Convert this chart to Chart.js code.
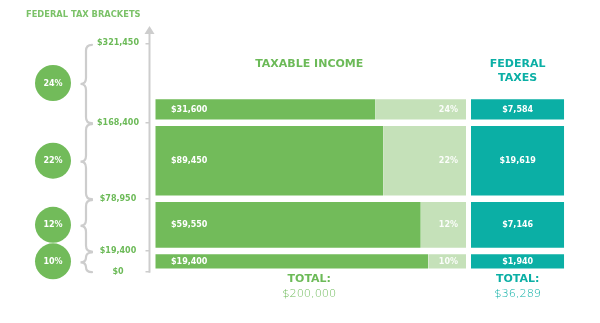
<!DOCTYPE html>
<html>
<head>
<meta charset="utf-8">
<script src="https://cdn.jsdelivr.net/npm/chart.js@4.4.1/dist/chart.umd.min.js"></script>
<style>
  html, body { margin: 0; padding: 0; background: #ffffff; }
  canvas { display: block; }
</style>
</head>
<body>
<canvas id="taxChart" width="600" height="323"></canvas>
<script>
// Federal brackets, lowest first
const rates = [10, 12, 22, 24];
const bracketFloors = [0, 19400, 78950, 168400];
const axisTicks = [0, 19400, 78950, 168400, 321450];
const incomeInBracket = [19400, 59550, 89450, 31600];
const taxInBracket = [1940, 7146, 19619, 7584];
const totalIncome = 200000;
const totalTax = 36289;

const GREEN = '#72bb5a';
const PALE = '#c5e1b9';
const TEAL = '#0bafa5';
const GREY = '#cdcdcd';
const LABEL_GREEN = '#6cba58';
const FONT = '"DejaVu Sans", sans-serif';

const money = v => '$' + Math.round(v).toLocaleString('en-US');

// Width of one income row, in rate points: the pale part of a row is its rate.
const ROW_SPAN = 84;

// Piecewise-linear dollar axis: each segment between stops gets its own share of the height.
const AXIS_STOPS = [0, 19400, 78950, 168400, 200000, 321450];
const AXIS_SHARES = [0, 0.0906, 0.3196, 0.6524, 0.769, 1];

class StepScale extends Chart.LinearScale {
  static id = 'steps';
  _toDecimal(value) {
    if (value <= AXIS_STOPS[0]) return AXIS_SHARES[0];
    for (let i = 1; i < AXIS_STOPS.length; i++) {
      if (value <= AXIS_STOPS[i]) {
        const t = (value - AXIS_STOPS[i - 1]) / (AXIS_STOPS[i] - AXIS_STOPS[i - 1]);
        return AXIS_SHARES[i - 1] + t * (AXIS_SHARES[i] - AXIS_SHARES[i - 1]);
      }
    }
    return AXIS_SHARES[AXIS_SHARES.length - 1];
  }
  getPixelForValue(value) {
    return value === null ? NaN : this.getPixelForDecimal(this._toDecimal(value));
  }
  getValueForPixel(pixel) {
    const d = this.getDecimalForPixel(pixel);
    for (let i = 1; i < AXIS_SHARES.length; i++) {
      if (d <= AXIS_SHARES[i]) {
        const t = (d - AXIS_SHARES[i - 1]) / (AXIS_SHARES[i] - AXIS_SHARES[i - 1]);
        return AXIS_STOPS[i - 1] + t * (AXIS_STOPS[i] - AXIS_STOPS[i - 1]);
      }
    }
    return AXIS_STOPS[AXIS_STOPS.length - 1];
  }
}

// Horizontal bars whose thickness spans a dollar range (lo..hi) on the vertical axis.
class BandController extends Chart.BarController {
  static id = 'band';
  static overrides = {};
  _calculateBarIndexPixels(index) {
    const iScale = this._cachedMeta.iScale;
    const row = this.getDataset().data[index];
    const a = iScale.getPixelForValue(row.lo);
    const b = iScale.getPixelForValue(row.hi);
    const base = Math.min(a, b);
    const head = Math.max(a, b);
    return { base, head, center: (a + b) / 2, size: head - base };
  }
}

Chart.register(StepScale, BandController);

const rowLo = bracketFloors;
const rowHi = bracketFloors.map((f, i) => f + incomeInBracket[i]);
const rowMid = rowLo.map((lo, i) => (lo + rowHi[i]) / 2);

const keptData = rates.map((r, i) => ({ x: [0, ROW_SPAN - r], y: rowMid[i], lo: rowLo[i], hi: rowHi[i] }));
const rateData = rates.map((r, i) => ({ x: [ROW_SPAN - r, ROW_SPAN], y: rowMid[i], lo: rowLo[i], hi: rowHi[i] }));
const taxData = taxInBracket.map((t, i) => ({ x: [0, 1], y: rowMid[i], lo: rowLo[i], hi: rowHi[i] }));

const GUTTER = { top: 3.2, bottom: 3.2 };

const annotate = {
  id: 'annotate',
  afterDraw(chart) {
    const ctx = chart.ctx;
    const ys = chart.scales.y;
    const xs = chart.scales.x;
    const x2s = chart.scales.x2;
    ctx.save();

    // vertical dollar axis with arrow head
    const ax = ys.right;
    ctx.strokeStyle = GREY;
    ctx.fillStyle = GREY;
    ctx.lineWidth = 2;
    ctx.beginPath();
    ctx.moveTo(ax, 32);
    ctx.lineTo(ax, ys.bottom + 1);
    ctx.stroke();
    ctx.beginPath();
    ctx.moveTo(ax, 26);
    ctx.lineTo(ax - 5, 34);
    ctx.lineTo(ax + 5, 34);
    ctx.closePath();
    ctx.fill();

    // braces and rate badges for each bracket
    for (let i = 0; i < rates.length; i++) {
      const yb = ys.getPixelForValue(axisTicks[i]);
      const yt = ys.getPixelForValue(axisTicks[i + 1]);
      const top = yt + 1.5;
      const bot = yb + 0.5;
      const mid = (top + bot) / 2;
      const spine = 86, tip = 80.5, end = 92;
      const r = Math.min(6, (bot - top) / 4);
      ctx.strokeStyle = GREY;
      ctx.lineWidth = 2.2;
      ctx.lineCap = 'round';
      ctx.beginPath();
      ctx.moveTo(end, top);
      ctx.quadraticCurveTo(spine, top, spine, top + r);
      ctx.lineTo(spine, mid - r);
      ctx.quadraticCurveTo(spine, mid, tip, mid);
      ctx.quadraticCurveTo(spine, mid, spine, mid + r);
      ctx.lineTo(spine, bot - r);
      ctx.quadraticCurveTo(spine, bot, end, bot);
      ctx.stroke();

      const cy = (yb + yt) / 2;
      ctx.fillStyle = GREEN;
      ctx.beginPath();
      ctx.arc(53, cy, 18, 0, Math.PI * 2);
      ctx.fill();
      ctx.fillStyle = '#ffffff';
      ctx.font = 'bold 8px ' + FONT;
      ctx.textAlign = 'center';
      ctx.textBaseline = 'middle';
      ctx.fillText(rates[i] + '%', 53, cy + 0.5);
    }

    // labels inside the bars
    const kept = chart.getDatasetMeta(0).data;
    const pale = chart.getDatasetMeta(1).data;
    const tax = chart.getDatasetMeta(2).data;
    ctx.font = 'bold 8px ' + FONT;
    ctx.textBaseline = 'middle';
    for (let i = 0; i < rates.length; i++) {
      const k = kept[i], p = pale[i], t = tax[i];
      ctx.fillStyle = '#ffffff';
      ctx.textAlign = 'left';
      ctx.fillText(money(incomeInBracket[i]), k.base + 21.5, k.y + 0.5);
      ctx.fillStyle = 'rgba(255,255,255,0.92)';
      ctx.textAlign = 'right';
      ctx.fillText(rates[i] + '%', p.x - 8, p.y + 0.5);
      ctx.fillStyle = '#ffffff';
      ctx.textAlign = 'center';
      ctx.fillText(money(taxInBracket[i]), (t.base + 5 + t.x) / 2, t.y + 0.5);
    }

    // headings and totals
    const incomeCenter = (xs.left + xs.right) / 2 + 1.5;
    const taxCenter = (x2s.left + 5 + x2s.right) / 2;
    ctx.textAlign = 'left';
    ctx.fillStyle = '#7bc268';
    ctx.font = 'bold 8.3px ' + FONT;
    ctx.fillText('FEDERAL TAX BRACKETS', 26, 15);

    ctx.textAlign = 'center';
    ctx.font = 'bold 11px ' + FONT;
    ctx.fillStyle = LABEL_GREEN;
    ctx.fillText('TAXABLE INCOME', incomeCenter, 64.5);
    ctx.fillText('TOTAL:', incomeCenter, 279.5);
    ctx.fillStyle = TEAL;
    ctx.fillText('FEDERAL', taxCenter, 64.5);
    ctx.fillText('TAXES', taxCenter, 78.5);
    ctx.fillText('TOTAL:', taxCenter, 279.5);

    ctx.font = '200 11.3px ' + FONT;
    ctx.fillStyle = LABEL_GREEN;
    ctx.fillText(money(totalIncome), incomeCenter, 294);
    ctx.fillStyle = TEAL;
    ctx.fillText(money(totalTax), taxCenter, 294);

    ctx.restore();
  }
};

new Chart(document.getElementById('taxChart'), {
  type: 'band',
  data: {
    datasets: [
      {
        label: 'Taxable income',
        xAxisID: 'x', yAxisID: 'y',
        data: keptData,
        backgroundColor: GREEN,
        borderColor: '#ffffff',
        borderWidth: { top: GUTTER.top, bottom: GUTTER.bottom, left: 6, right: 0 },
        borderSkipped: false
      },
      {
        label: 'Rate',
        xAxisID: 'x', yAxisID: 'y',
        data: rateData,
        backgroundColor: PALE,
        borderColor: '#ffffff',
        borderWidth: { top: GUTTER.top, bottom: GUTTER.bottom, left: 0, right: 0 },
        borderSkipped: false
      },
      {
        label: 'Federal taxes',
        xAxisID: 'x2', yAxisID: 'y',
        data: taxData,
        backgroundColor: TEAL,
        borderColor: '#ffffff',
        borderWidth: { top: GUTTER.top, bottom: GUTTER.bottom, left: 5, right: 0 },
        borderSkipped: false
      }
    ]
  },
  options: {
    indexAxis: 'y',
    responsive: false,
    animation: false,
    events: [],
    layout: { padding: { top: 43.3, bottom: 51.3, left: 0, right: 35.7 } },
    plugins: { legend: { display: false }, tooltip: { enabled: false }, title: { display: false } },
    scales: {
      y: {
        type: 'steps',
        position: 'left',
        min: 0,
        max: axisTicks[axisTicks.length - 1],
        offset: false,
        afterBuildTicks: s => { s.ticks = axisTicks.map(v => ({ value: v })); },
        afterFit: s => { s.width = 149.5; },
        grid: { drawOnChartArea: false, drawTicks: true, tickLength: 4, color: GREY, lineWidth: 1.5, offset: false },
        border: { display: false },
        ticks: {
          autoSkip: false,
          crossAlign: 'center',
          padding: 6.5,
          color: LABEL_GREEN,
          font: { family: FONT, weight: 'bold', size: 8 },
          callback: v => money(v)
        }
      },
      x: {
        type: 'linear', axis: 'x', position: 'bottom',
        stack: 'columns', stackWeight: 316.5,
        min: 0, max: ROW_SPAN,
        display: false
      },
      x2: {
        type: 'linear', axis: 'x', position: 'bottom',
        stack: 'columns', stackWeight: 98.3,
        min: 0, max: 1,
        display: false
      }
    }
  },
  plugins: [annotate]
});
</script>
</body>
</html>
